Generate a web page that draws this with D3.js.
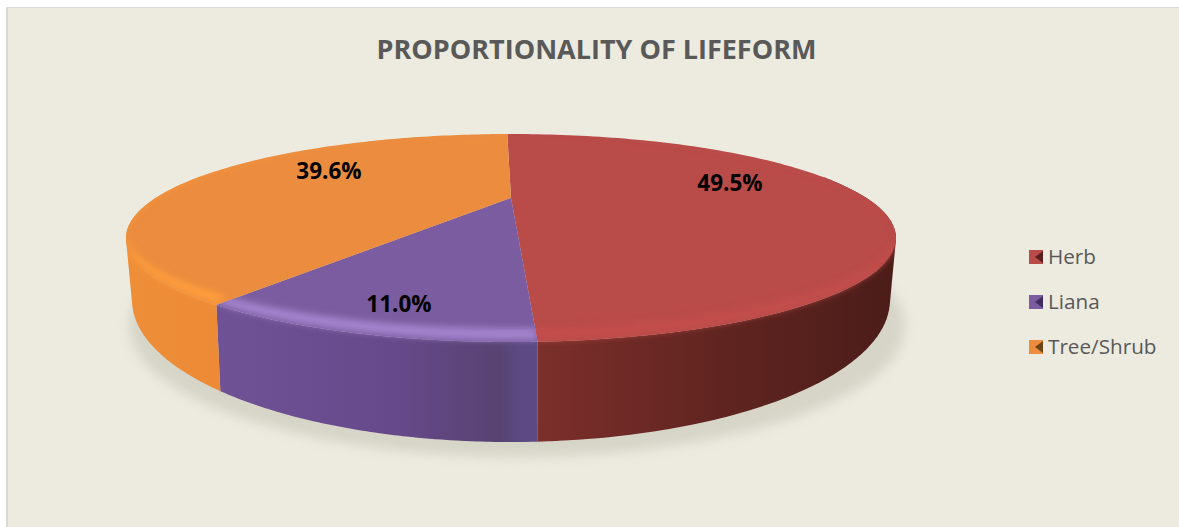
<!DOCTYPE html>
<html><head><meta charset="utf-8">
<script src="https://cdn.jsdelivr.net/npm/d3@7"></script>
<style>html,body{margin:0;padding:0;background:#fff}svg{display:block}</style>
</head><body><svg id="c" width="1179" height="527"></svg>
<script>
const title = "PROPORTIONALITY OF LIFEFORM";
const categories = ["Herb", "Liana", "Tree/Shrub"];
const values = [49.5, 11.0, 39.6];
const labels = ["49.5%", "11.0%", "39.6%"];
const topColors = ["#B94B48", "#7B5CA0", "#EB8C3F"];
const rimColors = ["#C34E4C", "#A283CC", "#FF9E3A"];
const sideStops = [
  [[0,"#7C2F2B"],[.55,"#5F2420"],[1,"#4C1D19"]],
  [[0,"#6F5296"],[.55,"#66498A"],[.88,"#584372"],[.95,"#5B4A84"],[1,"#5B4A84"]],
  [[0,"#EE8E38"],[1,"#EC8A36"]]
];
const legendDark = ["#5A1F1C","#3F2E5E","#6B4418"];

const svg = d3.select("#c");
const defs = svg.append("defs");
const blur = defs.append("filter").attr("id","blur").attr("x","-10%").attr("y","-20%").attr("width","120%").attr("height","140%");
blur.append("feGaussianBlur").attr("stdDeviation",6);
const soft = defs.append("filter").attr("id","soft").attr("x","-5%").attr("y","-30%").attr("width","110%").attr("height","160%");
soft.append("feGaussianBlur").attr("stdDeviation",3);

svg.append("rect").attr("width",1179).attr("height",527).attr("fill","#FFFFFF");
svg.append("rect").attr("x",6).attr("y",7).attr("width",1173).attr("height",520).attr("fill","#D9D9D9");
svg.append("rect").attr("x",8).attr("y",8).attr("width",1171).attr("height",519).attr("fill","#EDEBE0");

const sans = "'Open Sans', sans-serif";
svg.append("text").attr("x",596.5).attr("y",59).attr("text-anchor","middle")
  .attr("font-family",sans).attr("font-weight",700).attr("font-size",27)
  .attr("fill","#595959").text(title);

// perspective disc: theta measured clockwise from the back of the pie
function disc(cx, apexY, backY, frontY, halfW) {
  const p = ((frontY-apexY)-(apexY-backY))/((frontY-apexY)+(apexY-backY));
  const b = (frontY-apexY)*(1-p);
  const a = halfW*Math.sqrt(1-p*p);
  return t0 => {
    const t = t0 - 0.04*Math.sin(2*t0);
    const u = Math.sin(t), v = -Math.cos(t);
    return [cx + a*u/(1-p*v), apexY + b*v/(1-p*v)];
  };
}
const apex = [511, 198];
const rim = disc(apex[0], apex[1], 134, 342, 385);
const bandIn = disc(apex[0], apex[1], 134, 328, 385);
const bandOut = disc(apex[0], apex[1], 134, 340, 385);
const base = disc(511, 245, 158, 442, 379);
const shadow = disc(517, 265, 195, 457, 388);

const start = -0.9*Math.PI/180;
const arcs = d3.pie().sort(null).startAngle(start).endAngle(start+2*Math.PI)(values);
const line = d3.line();
const samples = (a,b,n=120) => d3.range(n+1).map(i => a+(b-a)*i/n);
const ring = pts => (d3.polygonArea(pts) < 0 ? pts.slice().reverse() : pts);
const closed = pts => line(ring(pts))+"Z";

svg.append("path").attr("d", closed(samples(0,2*Math.PI,180).map(t=>shadow(t))))
  .attr("fill","#C8C8BA").attr("opacity",.62).attr("filter","url(#blur)");

// side of a slice: union of thin quads between rim and base, so the silhouette stays a hull
function sideQuads(ts) {
  let d = "";
  for (let k=0; k+2<ts.length; k++) {
    d += closed([rim(ts[k]), rim(ts[k+2]), base(ts[k+2]), base(ts[k])]);
  }
  return d;
}
arcs.forEach((d,i)=>{
  const ts = samples(d.startAngle,d.endAngle);
  const front = ts.filter(t=>Math.cos(t)<0.25);
  const xs = front.map(t=>base(t)[0]);
  const gid = "side"+i;
  const g = defs.append("linearGradient").attr("id",gid).attr("gradientUnits","userSpaceOnUse")
    .attr("x1",d3.min(xs)).attr("x2",d3.max(xs)).attr("y1",0).attr("y2",0);
  sideStops[i].forEach(s=>g.append("stop").attr("offset",s[0]).attr("stop-color",s[1]));
  svg.append("path").attr("d",sideQuads(front)).attr("fill",`url(#${gid})`);
});
// top face
arcs.forEach((d,i)=>{
  const ts = samples(d.startAngle,d.endAngle);
  svg.append("path").attr("d",closed([apex].concat(ts.map(t=>rim(t))))).attr("fill",topColors[i]);
});
// soft bevel highlight, kept inside its own slice
arcs.forEach((d,i)=>{
  const ts = samples(d.startAngle,d.endAngle);
  const front = ts.filter(t=>Math.cos(t)<0.25);
  defs.append("clipPath").attr("id","bev"+i).append("path")
    .attr("d", closed([apex].concat(ts.map(t=>rim(t)))) + sideQuads(front));
  const pts = ts.map(t=>bandOut(t)).concat(ts.slice().reverse().map(t=>bandIn(t)));
  svg.append("g").attr("clip-path",`url(#bev${i})`).append("path")
    .attr("d",line(pts)+"Z").attr("fill",rimColors[i]).attr("filter","url(#soft)");
});
// labels
const labelPos = [[730,183],[399,304],[329,171]];
labels.forEach((l,i)=>{
  svg.append("text").attr("x",labelPos[i][0]).attr("y",labelPos[i][1]).attr("dy","0.35em").attr("text-anchor","middle")
    .attr("font-family",sans).attr("font-weight",700).attr("font-size",22.5)
    .attr("fill","#000").text(l);
});
// legend
const yLeg = d3.scalePoint().domain(categories).range([257,347]);
categories.forEach((c,i)=>{
  const y = yLeg(c);
  svg.append("rect").attr("x",1029).attr("y",y-7).attr("width",14).attr("height",14).attr("fill",topColors[i]);
  svg.append("path").attr("d",`M1043,${y-6}L1035,${y}L1043,${y+6}Z`).attr("fill",legendDark[i]);
  svg.append("text").attr("x",1048).attr("y",y).attr("dy","0.36em")
    .attr("font-family",sans).attr("font-size",20.7).attr("fill","#595959").text(c);
});
</script></body></html>
